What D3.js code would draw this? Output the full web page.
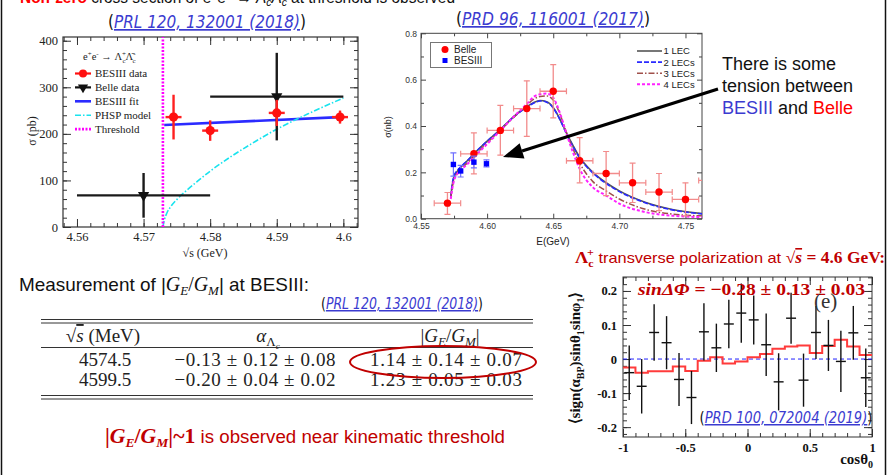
<!DOCTYPE html>
<html>
<head>
<meta charset="utf-8">
<script src="https://cdn.jsdelivr.net/npm/d3@7"></script>
<style>
  body { margin: 0; background: #fff; }
  svg { display: block; }
</style>
</head>
<body>
<svg id="slide" width="889" height="475"></svg>
<script>
// ---- left plot: BESIII threshold scan (PRL 120, 132001)
const besE = [4.5745, 4.5800, 4.5900, 4.5995]
const besSigma = [236, 207, 245, 236]
const besErr = [48, 22, 28, 14]
const belleE = [4.570, 4.590]
const belleSigma = [68, 280]
const belleErr = [48, 94]
const belleLo = [4.560, 4.580]
const belleHi = [4.580, 4.600]
const fitE = [4.5731, 4.5995]
const fitSigma = [219, 236]
const phspE = [4.5729, 4.5731, 4.5735, 4.5742, 4.5752, 4.5765, 4.5780, 4.5800, 4.5830, 4.5860, 4.5900, 4.5950, 4.6000]
const phspSigma = [0, 14, 30, 46, 62, 79, 97, 120, 150, 177, 210, 245, 277]
const thresholdE = 4.5729

// ---- middle plot: Belle + BESIII vs LEC fits (PRD 96, 116001)
const belleE2 = [4.57, 4.59, 4.61, 4.63, 4.65, 4.67, 4.69, 4.71, 4.73, 4.75, 4.77]
const belleXs = [0.067, 0.28, 0.381, 0.475, 0.55, 0.25, 0.195, 0.155, 0.115, 0.083, 0.165]
const belleXsLo = [0.019, 0.193, 0.274, 0.355, 0.435, 0.155, 0.10, 0.07, 0.035, 0.012, 0.09]
const belleXsHi = [0.113, 0.37, 0.489, 0.595, 0.665, 0.35, 0.29, 0.24, 0.195, 0.155, 0.24]
const belleHalfBin = 0.01
const besE2 = [4.5745, 4.5800, 4.5900, 4.5995]
const besXs = [0.234, 0.206, 0.244, 0.237]
const besXsLo = [0.184, 0.18, 0.219, 0.223]
const besXsHi = [0.284, 0.23, 0.27, 0.254]
const lecE = [4.5725, 4.5735, 4.575, 4.5775, 4.58, 4.585, 4.59, 4.60, 4.61, 4.62, 4.63, 4.635, 4.64, 4.645, 4.65, 4.655, 4.66, 4.665, 4.67, 4.68, 4.69, 4.70, 4.72, 4.74, 4.7625]
const lec1 = [0.09, 0.14, 0.18, 0.205, 0.222, 0.25, 0.28, 0.335, 0.385, 0.44, 0.483, 0.5, 0.51, 0.505, 0.48, 0.43, 0.37, 0.315, 0.265, 0.2, 0.155, 0.12, 0.07, 0.04, 0.022]
const lec2 = [0.095, 0.145, 0.185, 0.208, 0.224, 0.25, 0.28, 0.334, 0.384, 0.438, 0.481, 0.498, 0.508, 0.503, 0.478, 0.428, 0.367, 0.311, 0.262, 0.197, 0.152, 0.117, 0.068, 0.038, 0.021]
const lec3 = [0.09, 0.13, 0.17, 0.198, 0.214, 0.24, 0.27, 0.327, 0.382, 0.437, 0.49, 0.515, 0.527, 0.53, 0.512, 0.452, 0.372, 0.3, 0.24, 0.16, 0.12, 0.085, 0.04, 0.02, 0.012]
const lec4 = [0.085, 0.125, 0.165, 0.193, 0.21, 0.235, 0.265, 0.322, 0.38, 0.44, 0.495, 0.525, 0.537, 0.54, 0.522, 0.457, 0.367, 0.285, 0.215, 0.135, 0.1, 0.065, 0.028, 0.013, 0.007]
const lecNames = ['1 LEC', '2 LECs', '3 LECs', '4 LECs']

// ---- right plot: transverse polarization at 4.6 GeV (PRD 100, 072004)
const cosLo = [-1.0, -0.9, -0.8, -0.7, -0.6, -0.5, -0.4, -0.3, -0.2, -0.1, 0.0, 0.1, 0.2, 0.3, 0.4, 0.5, 0.6, 0.7, 0.8, 0.9]
const cosHi = [-0.9, -0.8, -0.7, -0.6, -0.5, -0.4, -0.3, -0.2, -0.1, 0.0, 0.1, 0.2, 0.3, 0.4, 0.5, 0.6, 0.7, 0.8, 0.9, 1.0]
const polMean = [-0.04, -0.08, 0.078, 0.048, -0.06, -0.113, 0.08, 0.033, 0.103, 0.135, 0.115, 0.042, -0.067, 0.12, -0.062, 0.078, 0.04, -0.007, 0.077, -0.055]
const polErr = [0.08, 0.08, 0.083, 0.078, 0.078, 0.078, 0.084, 0.071, 0.071, 0.087, 0.072, 0.092, 0.084, 0.075, 0.078, 0.078, 0.075, 0.09, 0.079, 0.086]
const polMC = [-0.025, -0.04, -0.036, -0.036, -0.022, -0.035, -0.005, 0.005, -0.013, -0.007, 0.005, 0.015, 0.03, 0.037, 0.04, 0.018, 0.038, 0.057, 0.037, 0.012]

// ---- table
const tableEnergy = ['4574.5', '4599.5']
const tableAlpha = ['\u22120.13 \u00b1 0.12 \u00b1 0.08', '\u22120.20 \u00b1 0.04 \u00b1 0.02']
const tableRatio = ['1.14 \u00b1 0.14 \u00b1 0.07', '1.23 \u00b1 0.05 \u00b1 0.03']

const slide = d3.select('#slide')
const serif = '"Liberation Serif", "Times New Roman", serif'
const sans = '"Liberation Sans", Arial, sans-serif'
const narrow = '"Liberation Sans Narrow", "DejaVu Sans Condensed", "Liberation Sans", sans-serif'
const darkRed = '#c00000'

// text made of pieces, p.off = baseline offset in px (sub/superscripts)
function spans(text, parts) {
  let shift = 0
  parts.forEach(p => {
    let s = text.append('tspan').text(p.t)
    let off = p.off || 0
    if (off != shift) s.attr('dy', off - shift)
    shift = off
    if (p.dx) s.attr('dx', p.dx)
    if (p.size) s.attr('font-size', p.size)
    if (p.fill) s.attr('fill', p.fill)
    if (p.w) s.attr('font-weight', p.w)
    if (p.st) s.attr('font-style', p.st)
    if (p.fam) s.attr('font-family', p.fam)
    if (p.deco) s.attr('text-decoration', p.deco)
  })
  return text
}

// inward ticks, ROOT style
function ticks(g, scale, orient, pos, values, size, fmt, pad) {
  let axisFn = {bottom: d3.axisBottom, top: d3.axisTop, left: d3.axisLeft, right: d3.axisRight}[orient]
  let tr = (orient == 'bottom' || orient == 'top') ? 'translate(0,' + pos + ')' : 'translate(' + pos + ',0)'
  let a = g.append('g').attr('transform', tr)
    .call(axisFn(scale).tickValues(values).tickSizeInner(-size).tickSizeOuter(0)
      .tickPadding(pad || 4).tickFormat(fmt || (() => '')))
  a.select('.domain').remove()
  return a
}

function ref(x, y, label, size, width) {
  let t = slide.append('text').attr('x', x).attr('y', y).attr('text-anchor', 'middle')
    .attr('font-family', narrow).attr('font-size', size).attr('fill', '#111')
    .attr('textLength', width).attr('lengthAdjust', 'spacingAndGlyphs')
  spans(t, [{t: '('}, {t: label, st: 'italic', fill: '#3b3bd0', deco: 'underline'}, {t: ')'}])
}

// slide edges
slide.append('line').attr('x1', 1.5).attr('x2', 1.5).attr('y1', 0).attr('y2', 475).attr('stroke', '#111').attr('stroke-width', 1.5)
slide.append('line').attr('x1', 885.5).attr('x2', 885.5).attr('y1', 0).attr('y2', 475).attr('stroke', '#111').attr('stroke-width', 1.5)

// headline, cut by the top edge
spans(slide.append('text').attr('x', 20).attr('y', 2.5).attr('font-family', sans).attr('font-size', 16.5).attr('fill', '#111')
  .attr('textLength', 435).attr('lengthAdjust', 'spacingAndGlyphs'), [
  {t: 'Non-zero', fill: '#ff0000', w: 'bold'}, {t: ' cross section of e'}, {t: '+', off: -7, size: 11}, {t: 'e'}, {t: '\u2212', off: -7, size: 11},
  {t: ' \u2192 \u039b', st: 'italic'}, {t: 'c', off: 3, size: 11, st: 'italic'}, {t: '\u039b\u0304', st: 'italic'}, {t: 'c', off: 3, size: 11, st: 'italic'},
  {t: ' at threshold is observed'}
])

ref(207, 28, 'PRL 120, 132001 (2018)', 17, 198)
ref(553, 25, 'PRD 96, 116001 (2017)', 17, 194)

// ================= left plot
let c1 = slide.append('g')
let x1 = d3.scaleLinear().domain([4.5579, 4.6022]).range([63, 358])
let y1 = d3.scaleLinear().domain([0, 408]).range([227, 37])

let minorX1 = d3.range(4.558, 4.6021, 0.002)
let minorY1 = d3.range(0, 408, 20)
let majorX1 = [4.56, 4.57, 4.58, 4.59, 4.6]
let majorY1 = [0, 100, 200, 300, 400]
ticks(c1, x1, 'bottom', 227, minorX1, 4)
ticks(c1, x1, 'top', 37, minorX1, 4)
ticks(c1, y1, 'left', 63, minorY1, 4)
ticks(c1, y1, 'right', 358, minorY1, 4)
ticks(c1, x1, 'top', 37, majorX1, 8)
ticks(c1, y1, 'right', 358, majorY1, 8)
let ax1 = ticks(c1, x1, 'bottom', 227, majorX1, 8, d => String(d), 5)
let ay1 = ticks(c1, y1, 'left', 63, majorY1, 8, d => String(d), 5)
c1.selectAll('.tick line').attr('stroke', '#333')
;[ax1, ay1].forEach(a => a.attr('font-family', serif).attr('font-size', 12.5).selectAll('text').attr('fill', '#222'))
c1.append('rect').attr('x', 63).attr('y', 37).attr('width', 295).attr('height', 190)
  .attr('fill', 'none').attr('stroke', '#333').attr('stroke-width', 1.2)

spans(c1.append('text').attr('x', 205).attr('y', 257).attr('text-anchor', 'middle')
  .attr('font-family', serif).attr('font-size', 12).attr('fill', '#222'), [{t: '\u221as (GeV)'}])
c1.append('text').attr('transform', 'translate(36,131) rotate(-90)').attr('text-anchor', 'middle')
  .attr('font-family', serif).attr('font-size', 12).attr('fill', '#222').text('\u03c3 (pb)')

// fit + threshold + phase space
c1.append('path').datum(fitE.map((e, i) => [e, fitSigma[i]]))
  .attr('d', d3.line().x(d => x1(d[0])).y(d => y1(d[1])))
  .attr('fill', 'none').attr('stroke', '#2b2bff').attr('stroke-width', 2.6)
c1.append('path').datum(phspE.map((e, i) => [e, phspSigma[i]]))
  .attr('d', d3.line().curve(d3.curveMonotoneX).x(d => x1(d[0])).y(d => y1(d[1])))
  .attr('fill', 'none').attr('stroke', '#19e3ee').attr('stroke-width', 1.6).attr('stroke-dasharray', '6,2,1.5,2')
c1.append('line').attr('x1', x1(thresholdE)).attr('x2', x1(thresholdE)).attr('y1', y1(0)).attr('y2', y1(408))
  .attr('stroke', '#ff00ff').attr('stroke-width', 2.6).attr('stroke-dasharray', '2,1.5')

// Belle points
belleE.forEach((e, i) => {
  c1.append('line').attr('x1', x1(belleLo[i])).attr('x2', x1(belleHi[i])).attr('y1', y1(belleSigma[i])).attr('y2', y1(belleSigma[i]))
    .attr('stroke', '#1a1a1a').attr('stroke-width', 2.4)
  c1.append('line').attr('x1', x1(e)).attr('x2', x1(e)).attr('y1', y1(belleSigma[i] - belleErr[i])).attr('y2', y1(belleSigma[i] + belleErr[i]))
    .attr('stroke', '#1a1a1a').attr('stroke-width', 2.4)
  c1.append('path').attr('d', d3.symbol(d3.symbolTriangle, 55)())
    .attr('transform', 'translate(' + x1(e) + ',' + y1(belleSigma[i]) + ') rotate(180)').attr('fill', '#111')
})
// BESIII points
besE.forEach((e, i) => {
  c1.append('line').attr('x1', x1(e)).attr('x2', x1(e)).attr('y1', y1(besSigma[i] - besErr[i])).attr('y2', y1(besSigma[i] + besErr[i]))
    .attr('stroke', '#ff2020').attr('stroke-width', 2.4)
  c1.append('line').attr('x1', x1(e - 0.0012)).attr('x2', x1(e + 0.0012)).attr('y1', y1(besSigma[i])).attr('y2', y1(besSigma[i]))
    .attr('stroke', '#ff2020').attr('stroke-width', 2.4)
  c1.append('circle').attr('cx', x1(e)).attr('cy', y1(besSigma[i])).attr('r', 4.6).attr('fill', '#ff1010')
})

// legend
spans(c1.append('text').attr('x', 83).attr('y', 60).attr('font-family', serif).attr('font-size', 10.5).attr('fill', '#222'), [
  {t: 'e'}, {t: '+', off: -4, size: 7}, {t: 'e'}, {t: '-', off: -4, size: 7}, {t: ' \u2192 \u039b'}, {t: '+', off: -4, size: 7},
  {t: 'c', off: 3, size: 7, dx: -3.5}, {t: '\u039b\u0304'}, {t: '-', off: -4, size: 7}, {t: 'c', off: 3, size: 7, dx: -3}
])
let leg1 = [
  {name: 'BESIII data', color: '#ff1010', w: 2.2, dash: null, mark: 'dot'},
  {name: 'Belle data', color: '#111', w: 2.2, dash: null, mark: 'tri'},
  {name: 'BESIII fit', color: '#2b2bff', w: 2.6, dash: null},
  {name: 'PHSP model', color: '#19e3ee', w: 1.6, dash: '6,2,1.5,2'},
  {name: 'Threshold', color: '#ff00ff', w: 2.6, dash: '2,1.5'}
]
leg1.forEach((d, i) => {
  let y = 73.5 + i * 13.9
  c1.append('line').attr('x1', 75).attr('x2', 91).attr('y1', y).attr('y2', y)
    .attr('stroke', d.color).attr('stroke-width', d.w).attr('stroke-dasharray', d.dash)
  if (d.mark == 'dot') c1.append('circle').attr('cx', 83).attr('cy', y).attr('r', 4).attr('fill', d.color)
  if (d.mark == 'tri') c1.append('path').attr('d', d3.symbol(d3.symbolTriangle, 45)())
    .attr('transform', 'translate(83,' + y + ') rotate(180)').attr('fill', d.color)
  c1.append('text').attr('x', 95).attr('y', y + 3.8).attr('font-family', serif).attr('font-size', 11).attr('fill', '#222').text(d.name)
})

// ================= middle plot
let c2 = slide.append('g')
let x2 = d3.scaleLinear().domain([4.55, 4.7625]).range([421, 702])
let y2 = d3.scaleLinear().domain([0, 0.8]).range([218.7, 33.3])
slide.append('clipPath').attr('id', 'clip2').append('rect').attr('x', 421).attr('y', 33.3).attr('width', 281).attr('height', 185.4)

let majorX2 = [4.55, 4.6, 4.65, 4.7, 4.75]
let minorX2 = [4.575, 4.625, 4.675, 4.725]
let majorY2 = [0, 0.2, 0.4, 0.6, 0.8]
let minorY2 = [0.1, 0.3, 0.5, 0.7]
ticks(c2, x2, 'bottom', 218.7, minorX2, 3)
ticks(c2, x2, 'top', 33.3, minorX2, 3)
ticks(c2, x2, 'top', 33.3, majorX2, 5)
ticks(c2, y2, 'left', 421, minorY2, 3)
ticks(c2, y2, 'right', 702, minorY2, 3)
ticks(c2, y2, 'right', 702, majorY2, 5)
let ax2 = ticks(c2, x2, 'bottom', 218.7, majorX2, 5, d3.format('.2f'), 4)
let ay2 = ticks(c2, y2, 'left', 421, majorY2, 5, d3.format('.1f'), 4)
c2.selectAll('.tick line').attr('stroke', '#444')
;[ax2, ay2].forEach(a => a.attr('font-family', sans).attr('font-size', 8.5).selectAll('text').attr('fill', '#333'))
c2.append('rect').attr('x', 421).attr('y', 33.3).attr('width', 281).attr('height', 185.4)
  .attr('fill', 'none').attr('stroke', '#444').attr('stroke-width', 1)
c2.append('text').attr('x', 553).attr('y', 245).attr('text-anchor', 'middle')
  .attr('font-family', sans).attr('font-size', 10).attr('fill', '#222').text('E(GeV)')
c2.append('text').attr('transform', 'translate(391,127) rotate(-90)').attr('text-anchor', 'middle')
  .attr('font-family', sans).attr('font-size', 9).attr('fill', '#222').text('\u03c3(nb)')

let p2 = c2.append('g').attr('clip-path', 'url(#clip2)')
let lecStyle = [
  {color: '#555555', w: 1.6, dash: null},
  {color: '#2a2aff', w: 1.6, dash: '5,2'},
  {color: '#a0504a', w: 1.5, dash: '6,2,1.5,2'},
  {color: '#ff22ff', w: 2, dash: '3,2'}
]
;[lec1, lec2, lec3, lec4].forEach((vals, k) => {
  p2.append('path').datum(lecE.map((e, i) => [e, vals[i]]))
    .attr('d', d3.line().curve(d3.curveMonotoneX).x(d => x2(d[0])).y(d => y2(d[1])))
    .attr('fill', 'none').attr('stroke', lecStyle[k].color).attr('stroke-width', lecStyle[k].w)
    .attr('stroke-dasharray', lecStyle[k].dash)
})
belleE2.forEach((e, i) => {
  let col = '#f28b8b'
  p2.append('line').attr('x1', x2(e - belleHalfBin)).attr('x2', x2(e + belleHalfBin)).attr('y1', y2(belleXs[i])).attr('y2', y2(belleXs[i]))
    .attr('stroke', col).attr('stroke-width', 1.3)
  p2.append('line').attr('x1', x2(e)).attr('x2', x2(e)).attr('y1', y2(belleXsLo[i])).attr('y2', y2(belleXsHi[i]))
    .attr('stroke', col).attr('stroke-width', 1.3)
  ;[belleXsLo[i], belleXsHi[i]].forEach(v => p2.append('line').attr('x1', x2(e) - 3).attr('x2', x2(e) + 3)
    .attr('y1', y2(v)).attr('y2', y2(v)).attr('stroke', col).attr('stroke-width', 1.2))
  ;[e - belleHalfBin, e + belleHalfBin].forEach(v => p2.append('line').attr('x1', x2(v)).attr('x2', x2(v))
    .attr('y1', y2(belleXs[i]) - 3).attr('y2', y2(belleXs[i]) + 3).attr('stroke', col).attr('stroke-width', 1.2))
  p2.append('circle').attr('cx', x2(e)).attr('cy', y2(belleXs[i])).attr('r', 3.7).attr('fill', '#ff0000')
})
besE2.forEach((e, i) => {
  let col = '#6f6fff'
  p2.append('line').attr('x1', x2(e)).attr('x2', x2(e)).attr('y1', y2(besXsLo[i])).attr('y2', y2(besXsHi[i]))
    .attr('stroke', col).attr('stroke-width', 1.2)
  ;[besXsLo[i], besXsHi[i]].forEach(v => p2.append('line').attr('x1', x2(e) - 3).attr('x2', x2(e) + 3)
    .attr('y1', y2(v)).attr('y2', y2(v)).attr('stroke', col).attr('stroke-width', 1.2))
  p2.append('rect').attr('x', x2(e) - 2.7).attr('y', y2(besXs[i]) - 2.7).attr('width', 5.4).attr('height', 5.4).attr('fill', '#0000ff')
})

// legends
c2.append('rect').attr('x', 430.5).attr('y', 42.5).attr('width', 61).attr('height', 25).attr('fill', '#fff').attr('stroke', '#777')
c2.append('circle').attr('cx', 445).attr('cy', 49.5).attr('r', 3.5).attr('fill', '#ff0000')
c2.append('rect').attr('x', 442.5).attr('y', 58).attr('width', 5).attr('height', 5).attr('fill', '#0000ff')
c2.append('text').attr('x', 454).attr('y', 53).attr('font-family', sans).attr('font-size', 10).attr('fill', '#222').text('Belle')
c2.append('text').attr('x', 454).attr('y', 64).attr('font-family', sans).attr('font-size', 10).attr('fill', '#222').text('BESIII')
lecNames.forEach((n, k) => {
  let y = 51 + k * 11.1
  c2.append('line').attr('x1', 637).attr('x2', 662).attr('y1', y).attr('y2', y)
    .attr('stroke', lecStyle[k].color).attr('stroke-width', lecStyle[k].w).attr('stroke-dasharray', lecStyle[k].dash)
  c2.append('text').attr('x', 663.5).attr('y', y + 3.4).attr('font-family', sans).attr('font-size', 9.5).attr('fill', '#222').text(n)
})

// annotation + arrow
let notes = [
  [{t: 'There is some'}],
  [{t: 'tension between'}],
  [{t: 'BESIII', fill: '#3b3bd0'}, {t: ' and '}, {t: 'Belle', fill: '#ff0000'}]
]
notes.forEach((parts, i) => spans(slide.append('text').attr('x', 722).attr('y', 70 + i * 22)
  .attr('font-family', sans).attr('font-size', 18).attr('fill', '#111'), parts))
let tail = [718, 89], tip = [503, 157]
let len = Math.hypot(tip[0] - tail[0], tip[1] - tail[1])
let u = [(tip[0] - tail[0]) / len, (tip[1] - tail[1]) / len]
let base = [tip[0] - u[0] * 20, tip[1] - u[1] * 20]
slide.append('line').attr('x1', tail[0]).attr('y1', tail[1]).attr('x2', base[0]).attr('y2', base[1])
  .attr('stroke', '#000').attr('stroke-width', 3.2)
slide.append('path').attr('fill', '#000')
  .attr('d', 'M' + tip + 'L' + [base[0] - u[1] * 8, base[1] + u[0] * 8] + 'L' + [base[0] + u[1] * 8, base[1] - u[0] * 8] + 'Z')

// ================= table
spans(slide.append('text').attr('x', 19).attr('y', 291).attr('font-family', sans).attr('font-size', 19).attr('fill', '#111')
  .attr('textLength', 290).attr('lengthAdjust', 'spacingAndGlyphs'), [
  {t: 'Measurement of |'}, {t: 'G', fam: serif, st: 'italic', size: 20}, {t: 'E', fam: serif, st: 'italic', size: 13, off: 4},
  {t: '/', fam: serif, size: 20}, {t: 'G', fam: serif, st: 'italic', size: 20}, {t: 'M', fam: serif, st: 'italic', size: 13, off: 4},
  {t: '| at BESIII:'}
])
ref(402, 309, 'PRL 120, 132001 (2018)', 15, 162)

;[319.5, 323, 395.5, 399].forEach(y => slide.append('line').attr('x1', 41).attr('x2', 533).attr('y1', y).attr('y2', y)
  .attr('stroke', '#333').attr('stroke-width', 1))
slide.append('line').attr('x1', 41).attr('x2', 533).attr('y1', 347.5).attr('y2', 347.5).attr('stroke', '#333').attr('stroke-width', 1)

spans(slide.append('text').attr('x', 103).attr('y', 342).attr('text-anchor', 'middle')
  .attr('font-family', serif).attr('font-size', 19).attr('fill', '#222'), [
  {t: '\u221a'}, {t: 's', st: 'italic', deco: 'overline'}, {t: ' (MeV)'}
])
spans(slide.append('text').attr('x', 268).attr('y', 342).attr('text-anchor', 'middle')
  .attr('font-family', serif).attr('font-size', 19).attr('fill', '#222'), [
  {t: '\u03b1', st: 'italic'}, {t: '\u039b', size: 13, off: 4}, {t: 'c', size: 9, st: 'italic', off: 7}
])
spans(slide.append('text').attr('x', 450).attr('y', 342).attr('text-anchor', 'middle')
  .attr('font-family', serif).attr('font-size', 19).attr('fill', '#222'), [
  {t: '|'}, {t: 'G', st: 'italic'}, {t: 'E', st: 'italic', size: 13, off: 4}, {t: '/'},
  {t: 'G', st: 'italic'}, {t: 'M', st: 'italic', size: 13, off: 4}, {t: '|'}
])
tableEnergy.forEach((e, i) => {
  let y = 366 + i * 20
  slide.append('text').attr('x', 105).attr('y', y).attr('text-anchor', 'middle').attr('font-family', serif)
    .attr('font-size', 19).attr('fill', '#222').text(e)
  slide.append('text').attr('x', 255).attr('y', y).attr('text-anchor', 'middle').attr('font-family', serif)
    .attr('font-size', 19).attr('fill', '#222').attr('textLength', 161).attr('lengthAdjust', 'spacing').text(tableAlpha[i])
  slide.append('text').attr('x', 446).attr('y', y).attr('text-anchor', 'middle').attr('font-family', serif)
    .attr('font-size', 19).attr('fill', '#222').attr('textLength', 152).attr('lengthAdjust', 'spacing').text(tableRatio[i])
})
slide.append('ellipse').attr('cx', 443).attr('cy', 362).attr('rx', 93).attr('ry', 16)
  .attr('fill', 'none').attr('stroke', darkRed).attr('stroke-width', 2)

spans(slide.append('text').attr('x', 105).attr('y', 443).attr('font-family', sans).attr('font-size', 18).attr('fill', darkRed)
  .attr('textLength', 400).attr('lengthAdjust', 'spacingAndGlyphs'), [
  {t: '|', fam: serif, w: 'bold', size: 21}, {t: 'G', fam: serif, w: 'bold', st: 'italic', size: 21},
  {t: 'E', fam: serif, w: 'bold', st: 'italic', size: 13, off: 4}, {t: '/', fam: serif, w: 'bold', size: 21},
  {t: 'G', fam: serif, w: 'bold', st: 'italic', size: 21}, {t: 'M', fam: serif, w: 'bold', st: 'italic', size: 13, off: 4},
  {t: '|~1', fam: serif, w: 'bold', size: 21}, {t: ' is observed near kinematic threshold'}
])

// ================= right plot
let c3 = slide.append('g')
let x3 = d3.scaleLinear().domain([-1, 1]).range([623, 872])
let y3 = d3.scaleLinear().domain([-0.229, 0.241]).range([437, 277])

spans(slide.append('text').attr('x', 575).attr('y', 263).attr('font-family', sans).attr('font-size', 15).attr('fill', darkRed)
  .attr('textLength', 310).attr('lengthAdjust', 'spacingAndGlyphs'), [
  {t: '\u039b', fam: serif, w: 'bold', size: 17}, {t: 'c', fam: serif, w: 'bold', size: 11, off: 4},
  {t: '+', fam: serif, w: 'bold', size: 11, off: -7, dx: -6}, {t: ' transverse polarization at '},
  {t: '\u221a', fam: serif, w: 'bold', size: 16}, {t: 's', fam: serif, w: 'bold', st: 'italic', size: 16, deco: 'overline'},
  {t: ' = 4.6 GeV:', fam: serif, w: 'bold', size: 16}
])

let minorX3 = d3.range(-0.9, 1, 0.1)
let minorY3 = d3.range(-0.22, 0.241, 0.02)
let majorX3 = [-1, -0.5, 0, 0.5, 1]
let majorY3 = [-0.2, -0.1, 0, 0.1, 0.2]
ticks(c3, x3, 'bottom', 437, minorX3, 4)
ticks(c3, x3, 'top', 277, minorX3, 4)
ticks(c3, y3, 'left', 623, minorY3, 4)
ticks(c3, y3, 'right', 872, minorY3, 4)
ticks(c3, y3, 'right', 872, majorY3, 8)
ticks(c3, x3, 'top', 277, majorX3, 8)
let ax3 = ticks(c3, x3, 'bottom', 437, majorX3, 8, d => String(d), 6)
let ay3 = ticks(c3, y3, 'left', 623, majorY3, 8, d => String(d), 6)
c3.selectAll('.tick line').attr('stroke', '#333')
;[ax3, ay3].forEach(a => a.attr('font-family', serif).attr('font-size', 12.5).attr('font-weight', 'bold').selectAll('text').attr('fill', '#111'))
c3.append('rect').attr('x', 623).attr('y', 277).attr('width', 249).attr('height', 160)
  .attr('fill', 'none').attr('stroke', '#333').attr('stroke-width', 1)

spans(c3.append('text').attr('x', 873).attr('y', 464).attr('text-anchor', 'end').attr('font-family', serif)
  .attr('font-weight', 'bold').attr('font-size', 15).attr('fill', '#111'), [{t: 'cos\u03b8'}, {t: '0', size: 10, off: 4}])
spans(c3.append('text').attr('transform', 'translate(580,358) rotate(-90)').attr('text-anchor', 'middle').attr('font-family', serif)
  .attr('font-weight', 'bold').attr('font-size', 15).attr('fill', '#111'), [
  {t: '\u27e8sign(\u03b1'}, {t: 'BP', size: 10, off: 4}, {t: ')sin\u03b8'}, {t: '1', size: 10, off: 4},
  {t: 'sin\u03c6'}, {t: '1', size: 10, off: 4}, {t: '\u27e9'}
])

c3.append('line').attr('x1', x3(-1)).attr('x2', x3(1)).attr('y1', y3(0)).attr('y2', y3(0))
  .attr('stroke', '#2020ff').attr('stroke-width', 1).attr('stroke-dasharray', '4,3')
c3.append('path').datum(cosLo.flatMap((lo, i) => [[lo, polMC[i]], [cosHi[i], polMC[i]]]))
  .attr('d', d3.line().x(d => x3(d[0])).y(d => y3(d[1])))
  .attr('fill', 'none').attr('stroke', '#ff3b3b').attr('stroke-width', 2)
cosLo.forEach((lo, i) => {
  let c = (lo + cosHi[i]) / 2
  c3.append('line').attr('x1', x3(c)).attr('x2', x3(c)).attr('y1', y3(polMean[i] - polErr[i])).attr('y2', y3(polMean[i] + polErr[i]))
    .attr('stroke', '#111').attr('stroke-width', 1.4)
  c3.append('line').attr('x1', x3(c - 0.04)).attr('x2', x3(c + 0.04)).attr('y1', y3(polMean[i])).attr('y2', y3(polMean[i]))
    .attr('stroke', '#111').attr('stroke-width', 1.4)
})

spans(slide.append('text').attr('x', 638).attr('y', 295).attr('font-family', serif).attr('font-weight', 'bold')
  .attr('font-size', 17).attr('fill', darkRed).attr('textLength', 227).attr('lengthAdjust', 'spacingAndGlyphs'), [
  {t: 'sin\u0394\u03a6', st: 'italic'}, {t: ' =  \u22120.28 \u00b1 0.13 \u00b1 0.03'}
])
slide.append('text').attr('x', 814).attr('y', 308).attr('font-family', serif).attr('font-size', 21).attr('fill', '#333').text('(e)')
ref(786, 423, 'PRD 100, 072004 (2019)', 15, 173)
</script>
</body>
</html>
